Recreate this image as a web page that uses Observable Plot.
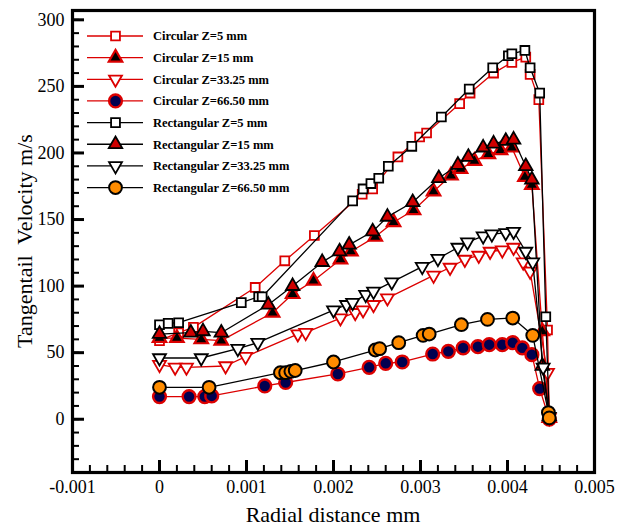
<!DOCTYPE html>
<html><head><meta charset="utf-8">
<script src="https://cdn.jsdelivr.net/npm/d3@7"></script>
<script src="https://cdn.jsdelivr.net/npm/@observablehq/plot@0.6"></script>
<style>body{margin:0;background:#fff}#chart{position:relative;width:624px;height:529px}
svg text{font-family:"Liberation Serif","Times New Roman",Tinos,"DejaVu Serif","Noto Serif",serif !important}</style>
</head><body><div id="chart"></div>
<script>
// ---- data (radial distance in mm, tangential velocity in m/s) ----
const seriesNames = ["Circular Z=5 mm","Circular Z=15 mm","Circular Z=33.25 mm","Circular Z=66.50 mm",
  "Rectangular Z=5 mm","Rectangular Z=15 mm","Rectangular Z=33.25 mm","Rectangular Z=66.50 mm"];

const circ5X = [0,0.00022,0.00039,0.0011,0.00144,0.00178,0.00233,0.00245,0.00274,0.00299,0.00307,0.00345,0.00357,0.00384,0.00405,0.00421,0.00426,0.00436,0.00446,0.00448];
const circ5Y = [59,65,69,99,119,138,169,173,197,212,215,237,245,260,268,272,259,240,67,1];

const circ15X = [0,0.0002,0.00048,0.00071,0.0013,0.00153,0.00177,0.00208,0.0022,0.00248,0.00269,0.00292,0.00315,0.00335,0.00346,0.00362,0.00378,0.00392,0.00405,0.0042,0.00428,0.0044,0.00448];
const circ15Y = [61,61,60,59,80,94,104,120,126,137,148,157,171,183,188,194,199,202,204,182,176,66,1];

const circ33X = [0,0.00018,0.00031,0.00076,0.00099,0.00159,0.00168,0.00208,0.00225,0.00234,0.00246,0.00262,0.00315,0.00334,0.00351,0.00367,0.0038,0.00394,0.00407,0.00418,0.00426,0.00446,0.00448];
const circ33Y = [41,39,39,40,47,64,65,76,80,82,86,91,108,114,120,123,126,127,129,118,111,35,1];

const circ66X = [0,0.00034,0.00052,0.0006,0.00121,0.00145,0.00205,0.00241,0.0026,0.00279,0.00314,0.00332,0.00349,0.00366,0.00379,0.00394,0.00406,0.00417,0.00428,0.00437,0.00448];
const circ66Y = [17,17,17,17.5,25,27.6,34,39,42,43,49,51,53.6,54.5,56,56,57.5,53.6,48.5,23,0];

const rect5X = [0,0.0001,0.00022,0.00094,0.00114,0.00118,0.00222,0.00234,0.00243,0.00252,0.00263,0.0029,0.00324,0.00356,0.00383,0.00401,0.00405,0.0042,0.00426,0.00437,0.00444,0.00448];
const rect5Y = [71,72,72.5,87.6,92,92,164,173,177,181,190,205,227,248,264,273,274.5,277,264,245,77,2];

const rect15X = [0,0.00036,0.0005,0.00071,0.00125,0.00153,0.00187,0.00207,0.00218,0.00245,0.00262,0.00291,0.00321,0.00343,0.00355,0.00372,0.00384,0.00398,0.00407,0.00421,0.00428,0.0044,0.00448];
const rect15Y = [64,65,66,65,86,100,118,126,131,141,152,163,181,191,197,204,207,209,210,190,180,40,2];

const rect33X = [0,0.00048,0.0009,0.00113,0.002,0.00215,0.00222,0.00237,0.00246,0.00267,0.00302,0.0032,0.00343,0.00354,0.00372,0.00382,0.00398,0.00407,0.00421,0.00429,0.00441,0.00448];
const rect33Y = [46,46,53,57.5,82,86,87.6,93.6,96,103,114.6,120.6,129,133,137.5,139,140,141,126,118,39,2];

const rect66X = [0,0.00057,0.00139,0.00145,0.00151,0.00156,0.002,0.00248,0.00253,0.00275,0.00303,0.0031,0.00347,0.00377,0.00406,0.00429,0.00447,0.00448];
const rect66Y = [24,24,35,35,36,36.6,43,52,53,57.5,63,64,71,75,76,63,5,1];

const xMajorTicks = [-0.001,0,0.001,0.002,0.003,0.004,0.005];
const yMajorTicks = [0,50,100,150,200,250,300];

// ---- layout / styling ----
const W = 624, H = 529, ML = 72, MR = 30, MT = 10, MB = 57;
const xDomain = [-0.001, 0.005], yDomain = [-40, 307];
const RED = "#dc0000", BLACK = "#000000";
const SERIF = "'Liberation Serif', 'Times New Roman', Tinos, 'DejaVu Serif', 'Noto Serif', serif";
const downTriangle = {draw(ctx, size){ const s = Math.sqrt(size*4/Math.sqrt(3)); const h = s*Math.sqrt(3)/2;
  ctx.moveTo(0, 2*h/3); ctx.lineTo(-s/2, -h/3); ctx.lineTo(s/2, -h/3); ctx.closePath(); }};
const styles = [
  {line: RED,   symbol: d3.symbolSquare,   r: 5.0, fill: "#fff",    stroke: RED,   sw: 1.8},
  {line: RED,   symbol: d3.symbolTriangle, r: 5.0, fill: "#000",    stroke: RED,   sw: 2.2},
  {line: RED,   symbol: downTriangle,      r: 4.8, fill: "#fff",    stroke: RED,   sw: 1.8},
  {line: RED,   symbol: d3.symbolCircle,   r: 6.4, fill: "#000050", stroke: RED,   sw: 2.4},
  {line: BLACK, symbol: d3.symbolSquare,   r: 5.0, fill: "#fff",    stroke: BLACK, sw: 1.8},
  {line: BLACK, symbol: d3.symbolTriangle, r: 5.0, fill: "#d00000", stroke: BLACK, sw: 1.8},
  {line: BLACK, symbol: downTriangle,      r: 4.8, fill: "#fff",    stroke: BLACK, sw: 1.8},
  {line: BLACK, symbol: d3.symbolCircle,   r: 6.4, fill: "#ff8c00", stroke: BLACK, sw: 2.0}
];
const seriesX = [circ5X, circ15X, circ33X, circ66X, rect5X, rect15X, rect33X, rect66X];
const seriesY = [circ5Y, circ15Y, circ33Y, circ66Y, rect5Y, rect15Y, rect33Y, rect66Y];
const tables = seriesX.map((xs, i) => xs.map((x, j) => ({x, y: seriesY[i][j]})));

const xMinor = d3.range(-10, 51, 2).map(v => v/10000);
const yMinor = d3.range(-40, 301, 10);
const fmtX = d => d === 0 ? "0" : d.toFixed(3);
const innerW = W - ML - MR, innerH = H - MT - MB;

const marks = [];
tables.forEach((t, i) => {
  const s = styles[i];
  marks.push(Plot.line(t, {x: "x", y: "y", stroke: s.line, strokeWidth: 1.3}));
  marks.push(Plot.dot(t, {x: "x", y: "y", symbol: () => s.symbol, r: s.r, fill: s.fill, stroke: s.stroke, strokeWidth: s.sw}));
});
marks.push(
  Plot.tickX(xMinor, {x: d => d, insetTop: innerH - 7, stroke: "#000", strokeWidth: 2}),
  Plot.tickX(xMajorTicks, {x: d => d, insetTop: innerH - 12, stroke: "#000", strokeWidth: 3}),
  Plot.tickY(yMinor, {y: d => d, insetRight: innerW - 7, stroke: "#000", strokeWidth: 2}),
  Plot.tickY(yMajorTicks, {y: d => d, insetRight: innerW - 12, stroke: "#000", strokeWidth: 3}),
  Plot.axisX({ticks: xMajorTicks, tickSize: 0, tickPadding: 8, tickFormat: fmtX, label: null}),
  Plot.axisY({ticks: yMajorTicks, tickSize: 0, tickPadding: 8, label: null}),
  Plot.frame({stroke: "#000", strokeWidth: 3.2})
);

const plot = Plot.plot({
  width: W, height: H,
  marginLeft: ML, marginRight: MR, marginTop: MT, marginBottom: MB,
  x: {domain: xDomain},
  y: {domain: yDomain},
  style: {fontFamily: SERIF, fontSize: "18px", color: "#000", background: "#fff"},
  marks
});
document.getElementById("chart").appendChild(plot);

const svg = d3.select(plot);

// axis titles
svg.append("text").attr("transform", "translate(27,241) rotate(-90)")
  .attr("text-anchor", "middle").attr("dominant-baseline", "middle")
  .style("font-size", "22px").text("Tangentail  Velocity m/s");
svg.append("text").attr("x", 333).attr("y", 522).attr("text-anchor", "middle")
  .style("font-size", "22px").text("Radial distance mm");

// in-plot legend
const lg = svg.append("g").attr("transform", "translate(87,36)");
seriesNames.forEach((name, i) => {
  const s = styles[i];
  const row = lg.append("g").attr("transform", `translate(0,${i*21.65})`);
  row.append("line").attr("x1", 0).attr("x2", 56).attr("stroke", s.line).attr("stroke-width", 1.3);
  row.append("path").attr("transform", "translate(28.5,0)")
    .attr("d", d3.symbol(s.symbol, s.r*s.r*Math.PI)())
    .attr("fill", s.fill).attr("stroke", s.stroke).attr("stroke-width", s.sw);
  row.append("text").attr("x", 66).attr("dy", "0.35em").attr("text-anchor", "start")
    .style("font-size", "12.5px").style("font-weight", "bold")
    .text(name);
});
</script>
</body></html>
